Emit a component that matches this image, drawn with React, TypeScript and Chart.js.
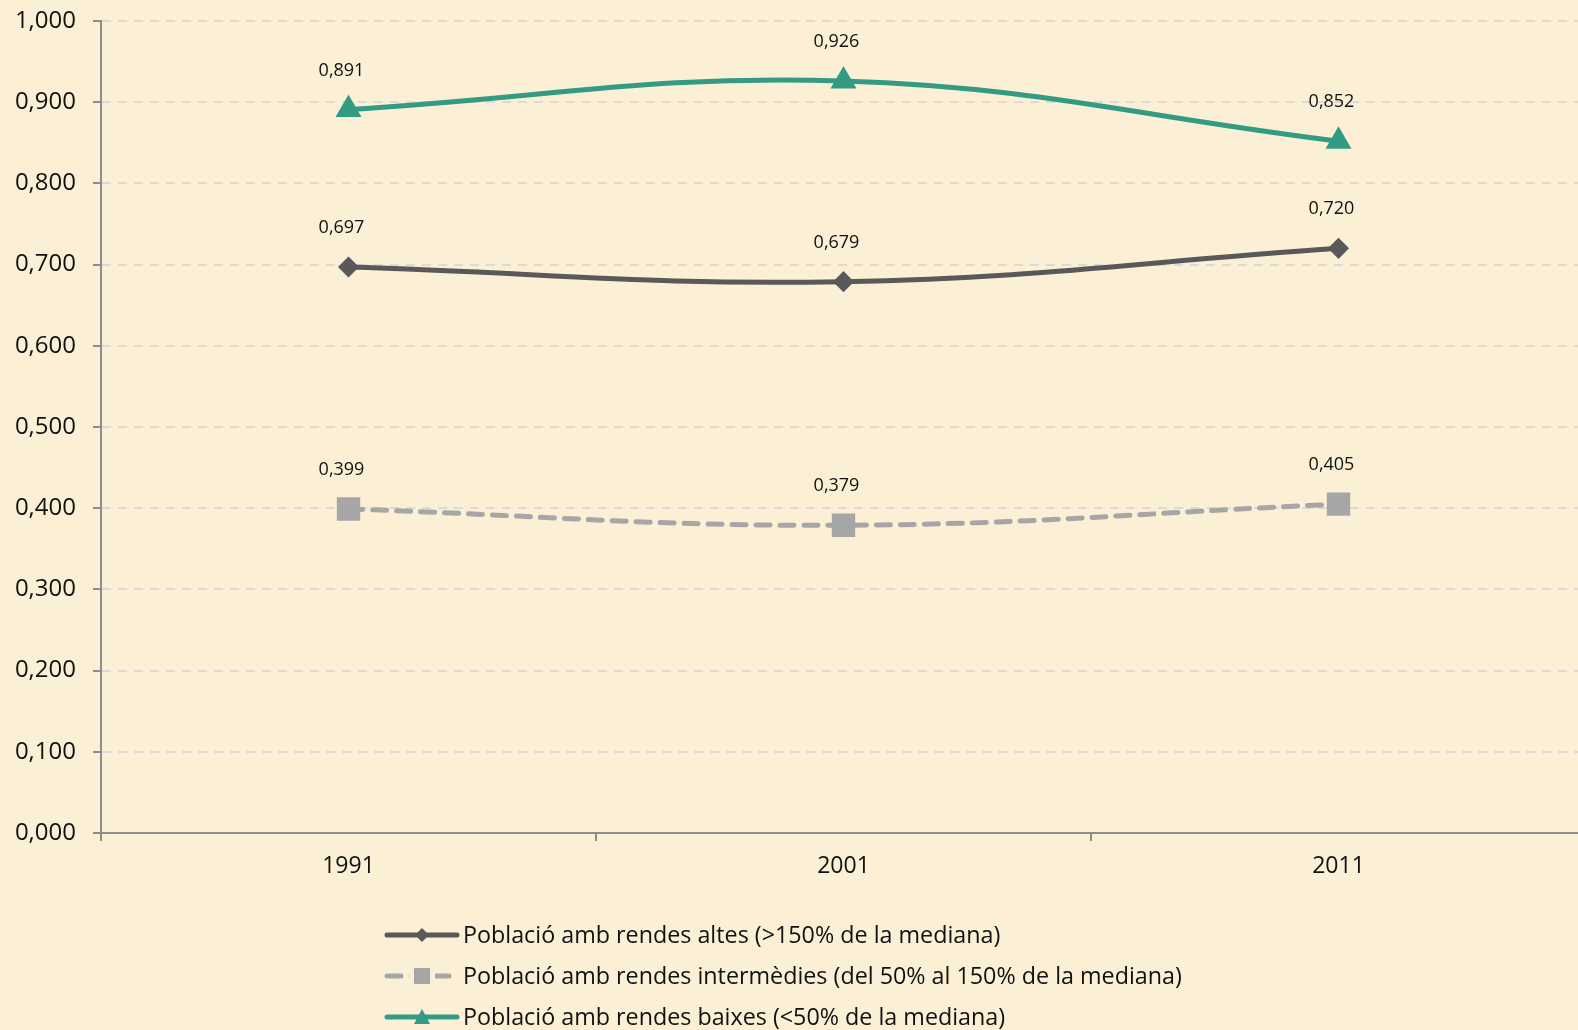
import React, { useEffect, useRef } from "react";
import { Chart, registerables } from "chart.js";

Chart.register(...registerables);

const categories = ["1991", "2001", "2011"];
const seriesNames = [
  "Població amb rendes altes (>150% de la mediana)",
  "Població amb rendes intermèdies (del 50% al 150% de la mediana)",
  "Població amb rendes baixes (<50% de la mediana)",
];
const altes = [0.697, 0.679, 0.72];
const intermedies = [0.399, 0.379, 0.405];
const baixes = [0.891, 0.926, 0.852];

const BG = "#FBF0D5";
const FONT = "'Open Sans', Lato, sans-serif";
const fmt = (v: number) => v.toFixed(3).replace(".", ",");

const dataLabelPlugin = {
  id: "dataLabels",
  afterDatasetsDraw(chart: any) {
    const ctx = chart.ctx;
    ctx.save();
    ctx.font = `18px ${FONT}`;
    ctx.fillStyle = "#111";
    ctx.textAlign = "center";
    ctx.textBaseline = "middle";
    chart.data.datasets.forEach((ds: any, i: number) => {
      const meta = chart.getDatasetMeta(i);
      meta.data.forEach((pt: any, j: number) => {
        ctx.fillText(fmt(ds.data[j]), pt.x - 7, pt.y - 39);
      });
    });
    ctx.restore();
  },
};

const legendPlugin = {
  id: "customLegend",
  afterDraw(chart: any) {
    const ctx = chart.ctx;
    ctx.save();
    const x0 = 387;
    const x1 = 457;
    const rowY0 = 935;
    const rowH = 41;
    chart.data.datasets.forEach((ds: any, i: number) => {
      const y = rowY0 + i * rowH;
      ctx.save();
      ctx.strokeStyle = ds.borderColor;
      ctx.lineWidth = ds.borderWidth;
      ctx.lineCap = "round";
      ctx.setLineDash(ds.borderDash || []);
      ctx.beginPath();
      ctx.moveTo(x0, y);
      ctx.lineTo(x1, y);
      ctx.stroke();
      ctx.restore();
      ctx.save();
      ctx.fillStyle = ds.pointBackgroundColor;
      const cx = (x0 + x1) / 2;
      if (ds.pointStyle === "rectRot") {
        const r = 7;
        ctx.beginPath();
        ctx.moveTo(cx - r, y);
        ctx.lineTo(cx, y - r);
        ctx.lineTo(cx + r, y);
        ctx.lineTo(cx, y + r);
        ctx.closePath();
        ctx.fill();
      } else if (ds.pointStyle === "rect") {
        ctx.fillStyle = BG;
        ctx.fillRect(cx - 13, y - 6, 26, 12);
        ctx.fillStyle = ds.pointBackgroundColor;
        ctx.fillRect(cx - 8, y - 8, 16, 16);
      } else {
        ctx.beginPath();
        ctx.moveTo(cx, y - 8);
        ctx.lineTo(cx + 8, y + 7);
        ctx.lineTo(cx - 8, y + 7);
        ctx.closePath();
        ctx.fill();
      }
      ctx.restore();
      ctx.font = `23.3px ${FONT}`;
      ctx.fillStyle = "#111";
      ctx.textAlign = "left";
      ctx.textBaseline = "middle";
      ctx.fillText(seriesNames[i], 463, y + 1);
    });
    ctx.restore();
  },
};

const CANVAS_W = 1588;
const CANVAS_H = 1030;

export default function App() {
  const ref = useRef<HTMLCanvasElement | null>(null);
  useEffect(() => {
    document.body.style.margin = "0";
    document.body.style.background = BG;
    document.body.style.overflow = "hidden";
    const chart = new Chart(ref.current as HTMLCanvasElement, {
      type: "line",
      data: {
        labels: categories,
        datasets: [
          {
            label: seriesNames[0],
            data: altes,
            borderColor: "#595959",
            backgroundColor: "#595959",
            pointBackgroundColor: "#595959",
            pointBorderColor: "#595959",
            pointStyle: "rectRot",
            pointRadius: 7,
            borderWidth: 5,
            tension: 0.4,
          },
          {
            label: seriesNames[1],
            data: intermedies,
            borderColor: "#A6A6A6",
            backgroundColor: "#A6A6A6",
            pointBackgroundColor: "#A6A6A6",
            pointBorderColor: "#A6A6A6",
            pointStyle: "rect",
            pointRadius: 13,
            borderWidth: 5,
            borderDash: [14, 10],
            borderCapStyle: "round",
            tension: 0.4,
          } as any,
          {
            label: seriesNames[2],
            data: baixes,
            borderColor: "#339B83",
            backgroundColor: "#339B83",
            pointBackgroundColor: "#339B83",
            pointBorderColor: "#339B83",
            pointStyle: "triangle",
            pointRadius: 10,
            borderWidth: 5,
            tension: 0.4,
          },
        ],
      },
      options: {
        animation: false,
        responsive: false,
        maintainAspectRatio: false,
        layout: { autoPadding: false, padding: { top: 21, right: 2, left: 0, bottom: 0 } } as any,
        plugins: {
          legend: { display: false },
          tooltip: { enabled: false },
        },
        scales: {
          x: {
            offset: true,
            afterFit: (scale: any) => {
              scale.height = 197;
              scale.paddingLeft = 0;
              scale.paddingRight = 0;
            },
            grid: {
              offset: true,
              drawOnChartArea: false,
              drawTicks: true,
              tickLength: 8,
              color: "#8C8C8C",
              lineWidth: 2,
            },
            border: { display: true, color: "#8C8C8C", width: 2 },
            ticks: {
              color: "#111",
              font: { family: FONT, size: 23 },
              padding: 12,
            },
          },
          y: {
            min: 0,
            max: 1,
            afterFit: (scale: any) => {
              scale.width = 101;
              scale.paddingTop = 0;
              scale.paddingBottom = 0;
            },
            ticks: {
              stepSize: 0.1,
              color: "#111",
              font: { family: FONT, size: 24 },
              padding: 17,
              callback: (v: any) => fmt(Number(v)),
            },
            grid: {
              color: (c: any) => (c.tick && c.tick.value === 0 ? "rgba(0,0,0,0)" : "#DCDAD6"),
              lineWidth: 2,
              tickBorderDash: [],
              tickColor: "#8C8C8C",
              tickLength: 8,
            } as any,
            border: { display: true, color: "#8C8C8C", width: 2, dash: [9, 7] } as any,
          },
        },
      },
      plugins: [dataLabelPlugin, legendPlugin],
    });
    return () => chart.destroy();
  }, []);
  return (
    <div
      style={{
        position: "absolute",
        left: 0,
        top: 0,
        width: 1578,
        height: 1030,
        overflow: "hidden",
        background: BG,
      }}
    >
      <canvas
        ref={ref}
        width={CANVAS_W}
        height={CANVAS_H}
        style={{ width: CANVAS_W, height: CANVAS_H, display: "block" }}
      />
    </div>
  );
}
